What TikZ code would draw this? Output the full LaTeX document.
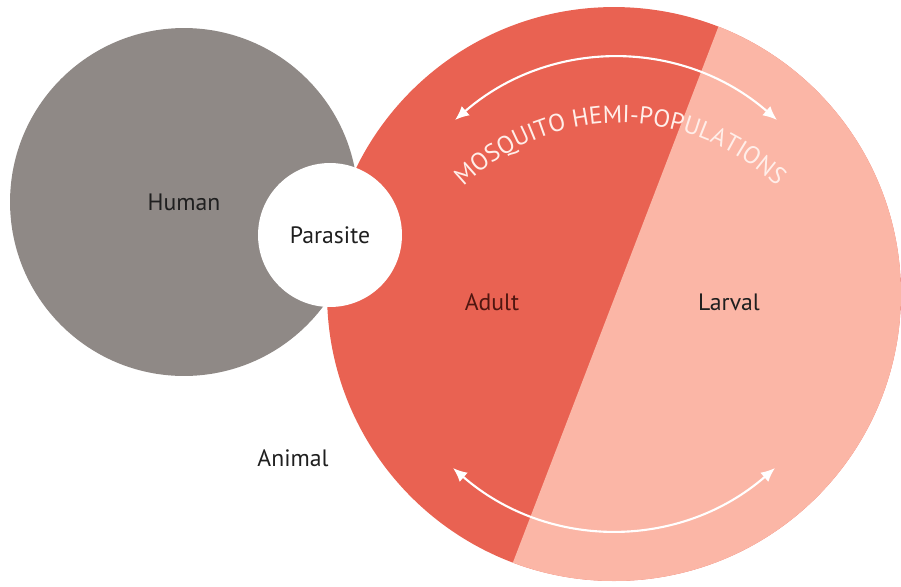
\documentclass[tikz,border=0pt]{standalone}
\usepackage{fontspec}
\setmainfont{PT Sans}
\usepackage{tikz}
\usetikzlibrary{arrows.meta, decorations.text}

\definecolor{humangray}{RGB}{143,137,134}
\definecolor{adultred}{RGB}{233,98,82}
\definecolor{larvalpink}{RGB}{251,182,166}
\definecolor{adulttext}{RGB}{80,22,16}
\definecolor{arcwhite}{RGB}{255,238,233}
\newcommand\arcfont{\fontsize{14}{17}\selectfont\color{arcwhite}}

\begin{document}
\begin{tikzpicture}[
  x=0.02cm, y=0.02cm,
  >={Latex[length=8pt,width=7pt]},
  txt/.style={font=\fontsize{13.5}{16}\selectfont, text=black!88},
  host/.style={circle, fill=humangray, minimum size=6.96cm, inner sep=0pt},
  parasite/.style={circle, fill=white, minimum size=2.88cm, inner sep=0pt},
  mosquito/.style={circle, fill=adultred, minimum size=11.48cm, inner sep=0pt},
  flow/.style={<->, draw=white, line width=1.2pt}
]
  \useasboundingbox (0,0) rectangle (901,586);

  % hosts and vector
  \node[host, txt] (human) at (184,384) {Human};
  \node[mosquito] (mosq) at (614,292) {};
  \begin{scope}
    \clip (mosq.center) circle[radius=287];
    \fill[larvalpink] (739,613) -- (492,-31) -- (950,-31) -- (950,613) -- cycle;
  \end{scope}
  \node[parasite, txt] (parasite) at (330,351) {Parasite};

  \node[txt, text=adulttext] (adult) at (492,284) {Adult};
  \node[txt] (larval) at (729,284) {Larval};
  \node[txt] (animal) at (293,128) {Animal};

  % hemi-population arrows
  \coordinate (topL) at (455,466);
  \coordinate (topR) at (777,466);
  \coordinate (botL) at (453,118);
  \coordinate (botR) at (775,118);
  \draw[flow] (topL) to[bend left=41] (topR);
  \draw[flow] (botL) to[bend right=41] (botR);

  \path[decorate, decoration={text along path, text align=center,
      text={|\arcfont|MOSQUITO HEMI-POPULATIONS}}]
    (620,238) ++(137:225) arc[start angle=137, end angle=43, radius=225];
\end{tikzpicture}
\end{document}
